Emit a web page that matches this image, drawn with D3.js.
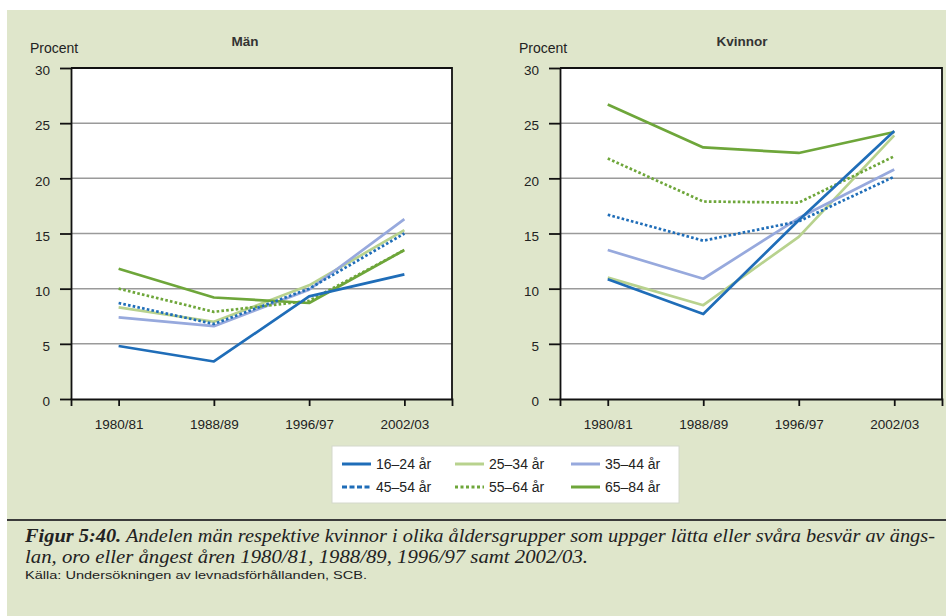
<!DOCTYPE html>
<html>
<head>
<meta charset="utf-8">
<script src="https://cdn.jsdelivr.net/npm/d3@7"></script>
<style>
  html, body { margin: 0; padding: 0; background: #ffffff; }
  svg { display: block; }
</style>
</head>
<body>
<svg id="chart" width="946" height="616"></svg>
<script>
// ---------- DATA ----------
const categories = ["1980/81", "1988/89", "1996/97", "2002/03"];
const yTicks = [0, 5, 10, 15, 20, 25, 30];
const seriesNames = ["16–24 år", "25–34 år", "35–44 år", "45–54 år", "55–64 år", "65–84 år"];

// Män
const men_16_24 = [4.8, 3.4, 9.3, 11.3];
const men_25_34 = [8.3, 7.0, 10.3, 15.3];
const men_35_44 = [7.4, 6.6, 9.9, 16.3];
const men_45_54 = [8.7, 6.8, 10.0, 15.0];
const men_55_64 = [10.0, 7.9, 8.9, 13.5];
const men_65_84 = [11.8, 9.2, 8.7, 13.5];

// Kvinnor
const women_16_24 = [10.85, 7.7, 16.2, 24.3];
const women_25_34 = [11.0, 8.5, 14.7, 23.9];
const women_35_44 = [13.5, 10.9, 16.4, 20.8];
const women_45_54 = [16.7, 14.35, 16.1, 20.15];
const women_55_64 = [21.8, 17.9, 17.8, 22.0];
const women_65_84 = [26.7, 22.8, 22.3, 24.2];

const panelTitles = ["Män", "Kvinnor"];
const yLabel = "Procent";
const captionBold = "Figur 5:40.";
const captionLine1 = " Andelen män respektive kvinnor i olika åldersgrupper som uppger lätta eller svåra besvär av ängs-";
const captionLine2 = "lan, oro eller ångest åren 1980/81, 1988/89, 1996/97 samt 2002/03.";
const sourceText = "Källa: Undersökningen av levnadsförhållanden, SCB.";

// ---------- STYLES ----------
const seriesColors = ["#1f6db8", "#b8d28e", "#97a9dd", "#1f6db8", "#6ea63a", "#6ea63a"];
const seriesDash = [null, null, null, "2.6,2.2", "2.6,2.2", null];
const legendDash = [null, null, null, "5,2.5", "3,2.5", null];

const svg = d3.select("#chart");
const FONT = "Liberation Sans, Arial, sans-serif";

// background
svg.append("rect").attr("x", 7).attr("y", 10).attr("width", 939).attr("height", 606).attr("fill", "#dfe6cb");

const panels = [
  { title: panelTitles[0], data: [men_16_24, men_25_34, men_35_44, men_45_54, men_55_64, men_65_84], x0: 71, x1: 452, tx: 245 },
  { title: panelTitles[1], data: [women_16_24, women_25_34, women_35_44, women_45_54, women_55_64, women_65_84], x0: 560, x1: 942, tx: 742 }
];

const yTop = 68, yBot = 399;
const y = d3.scaleLinear().domain([0, 30]).range([yBot, yTop]);

panels.forEach(p => {
  const g = svg.append("g");
  const x = d3.scalePoint().domain(categories).range([p.x0, p.x1]).padding(0.5);

  g.append("rect").attr("x", p.x0).attr("y", yTop).attr("width", p.x1 - p.x0).attr("height", yBot - yTop).attr("fill", "#ffffff");

  // grid
  g.selectAll(".grid").data(yTicks.filter(t => t > 0 && t < 30)).enter().append("line")
    .attr("x1", p.x0).attr("x2", p.x1)
    .attr("y1", d => y(d)).attr("y2", d => y(d))
    .attr("stroke", "#9a9a9a").attr("stroke-width", 1.5);

  // border top/right
  g.append("path")
    .attr("d", `M${p.x0},${yTop}H${p.x1}V${yBot}`)
    .attr("fill", "none").attr("stroke", "#111").attr("stroke-width", 1.8);

  // lines
  const line = d3.line().x((d, i) => x(categories[i])).y(d => y(d));
  const order = [1, 2, 5, 4, 3, 0];
  order.forEach(si => {
    g.append("path").datum(p.data[si])
      .attr("d", line)
      .attr("fill", "none")
      .attr("stroke", seriesColors[si])
      .attr("stroke-width", 2.7)
      .attr("stroke-dasharray", seriesDash[si])
      .attr("stroke-linejoin", "round");
  });

  // y axis
  const ya = g.append("g").attr("transform", `translate(${p.x0},0)`)
    .call(d3.axisLeft(y).tickValues(yTicks).tickSize(11).tickSizeOuter(0).tickPadding(10));
  ya.select(".domain").attr("stroke", "#111").attr("stroke-width", 1.8);
  ya.selectAll(".tick line").attr("stroke", "#111").attr("stroke-width", 1.8);
  ya.selectAll(".tick text").attr("font-family", FONT).attr("font-size", 13.5).attr("fill", "#222").attr("dy", "0.5em");

  // x axis
  const xa = g.append("g").attr("transform", `translate(0,${yBot})`)
    .call(d3.axisBottom(x).tickSize(7).tickSizeOuter(7).tickPadding(13));
  xa.select(".domain").attr("stroke", "#111").attr("stroke-width", 1.8);
  xa.selectAll(".tick line").attr("stroke", "#111").attr("stroke-width", 1.8);
  xa.selectAll(".tick text").attr("font-family", FONT).attr("font-size", 13.5).attr("fill", "#222");

  // titles
  svg.append("text").attr("x", p.x0 - 41).attr("y", 53).attr("font-family", FONT).attr("font-size", 14)
    .attr("fill", "#222").text(yLabel);
  svg.append("text").attr("x", p.tx).attr("y", 46).attr("text-anchor", "middle")
    .attr("font-family", FONT).attr("font-size", 13.5).attr("font-weight", "bold").attr("fill", "#333").text(p.title);
});

// legend
const lg = svg.append("g");
lg.append("rect").attr("x", 332).attr("y", 446).attr("width", 347).attr("height", 57)
  .attr("fill", "#ffffff").attr("stroke", "#d4d8cc").attr("stroke-width", 1);
const colX = [342, 455, 571];
const rowY = [464, 487];
seriesNames.forEach((name, i) => {
  const cx = colX[i % 3], cy = rowY[Math.floor(i / 3)];
  lg.append("line").attr("x1", cx).attr("x2", cx + 29).attr("y1", cy).attr("y2", cy)
    .attr("stroke", seriesColors[i]).attr("stroke-width", 3).attr("stroke-dasharray", legendDash[i]);
  lg.append("text").attr("x", cx + 34).attr("y", cy + 5).attr("font-family", FONT).attr("font-size", 14)
    .attr("fill", "#222").text(name);
});

// rule
svg.append("line").attr("x1", 7).attr("x2", 946).attr("y1", 520).attr("y2", 520)
  .attr("stroke", "#3a3a3a").attr("stroke-width", 2.2);

// caption
const SERIF = "Liberation Serif, Times New Roman, serif";
const c1 = svg.append("text").attr("x", 25).attr("y", 542).attr("font-family", SERIF).attr("font-size", 18)
  .attr("font-style", "italic").attr("fill", "#222")
  .attr("textLength", 910).attr("lengthAdjust", "spacingAndGlyphs");
c1.append("tspan").attr("font-weight", "bold").text(captionBold);
c1.append("tspan").text(captionLine1);
svg.append("text").attr("x", 25).attr("y", 563).attr("font-family", SERIF).attr("font-size", 18)
  .attr("font-style", "italic").attr("fill", "#222")
  .attr("textLength", 563).attr("lengthAdjust", "spacingAndGlyphs").text(captionLine2);
svg.append("text").attr("x", 25).attr("y", 579).attr("font-family", FONT).attr("font-size", 11.5)
  .attr("fill", "#222").attr("textLength", 342).attr("lengthAdjust", "spacingAndGlyphs").text(sourceText);
</script>
</body>
</html>
